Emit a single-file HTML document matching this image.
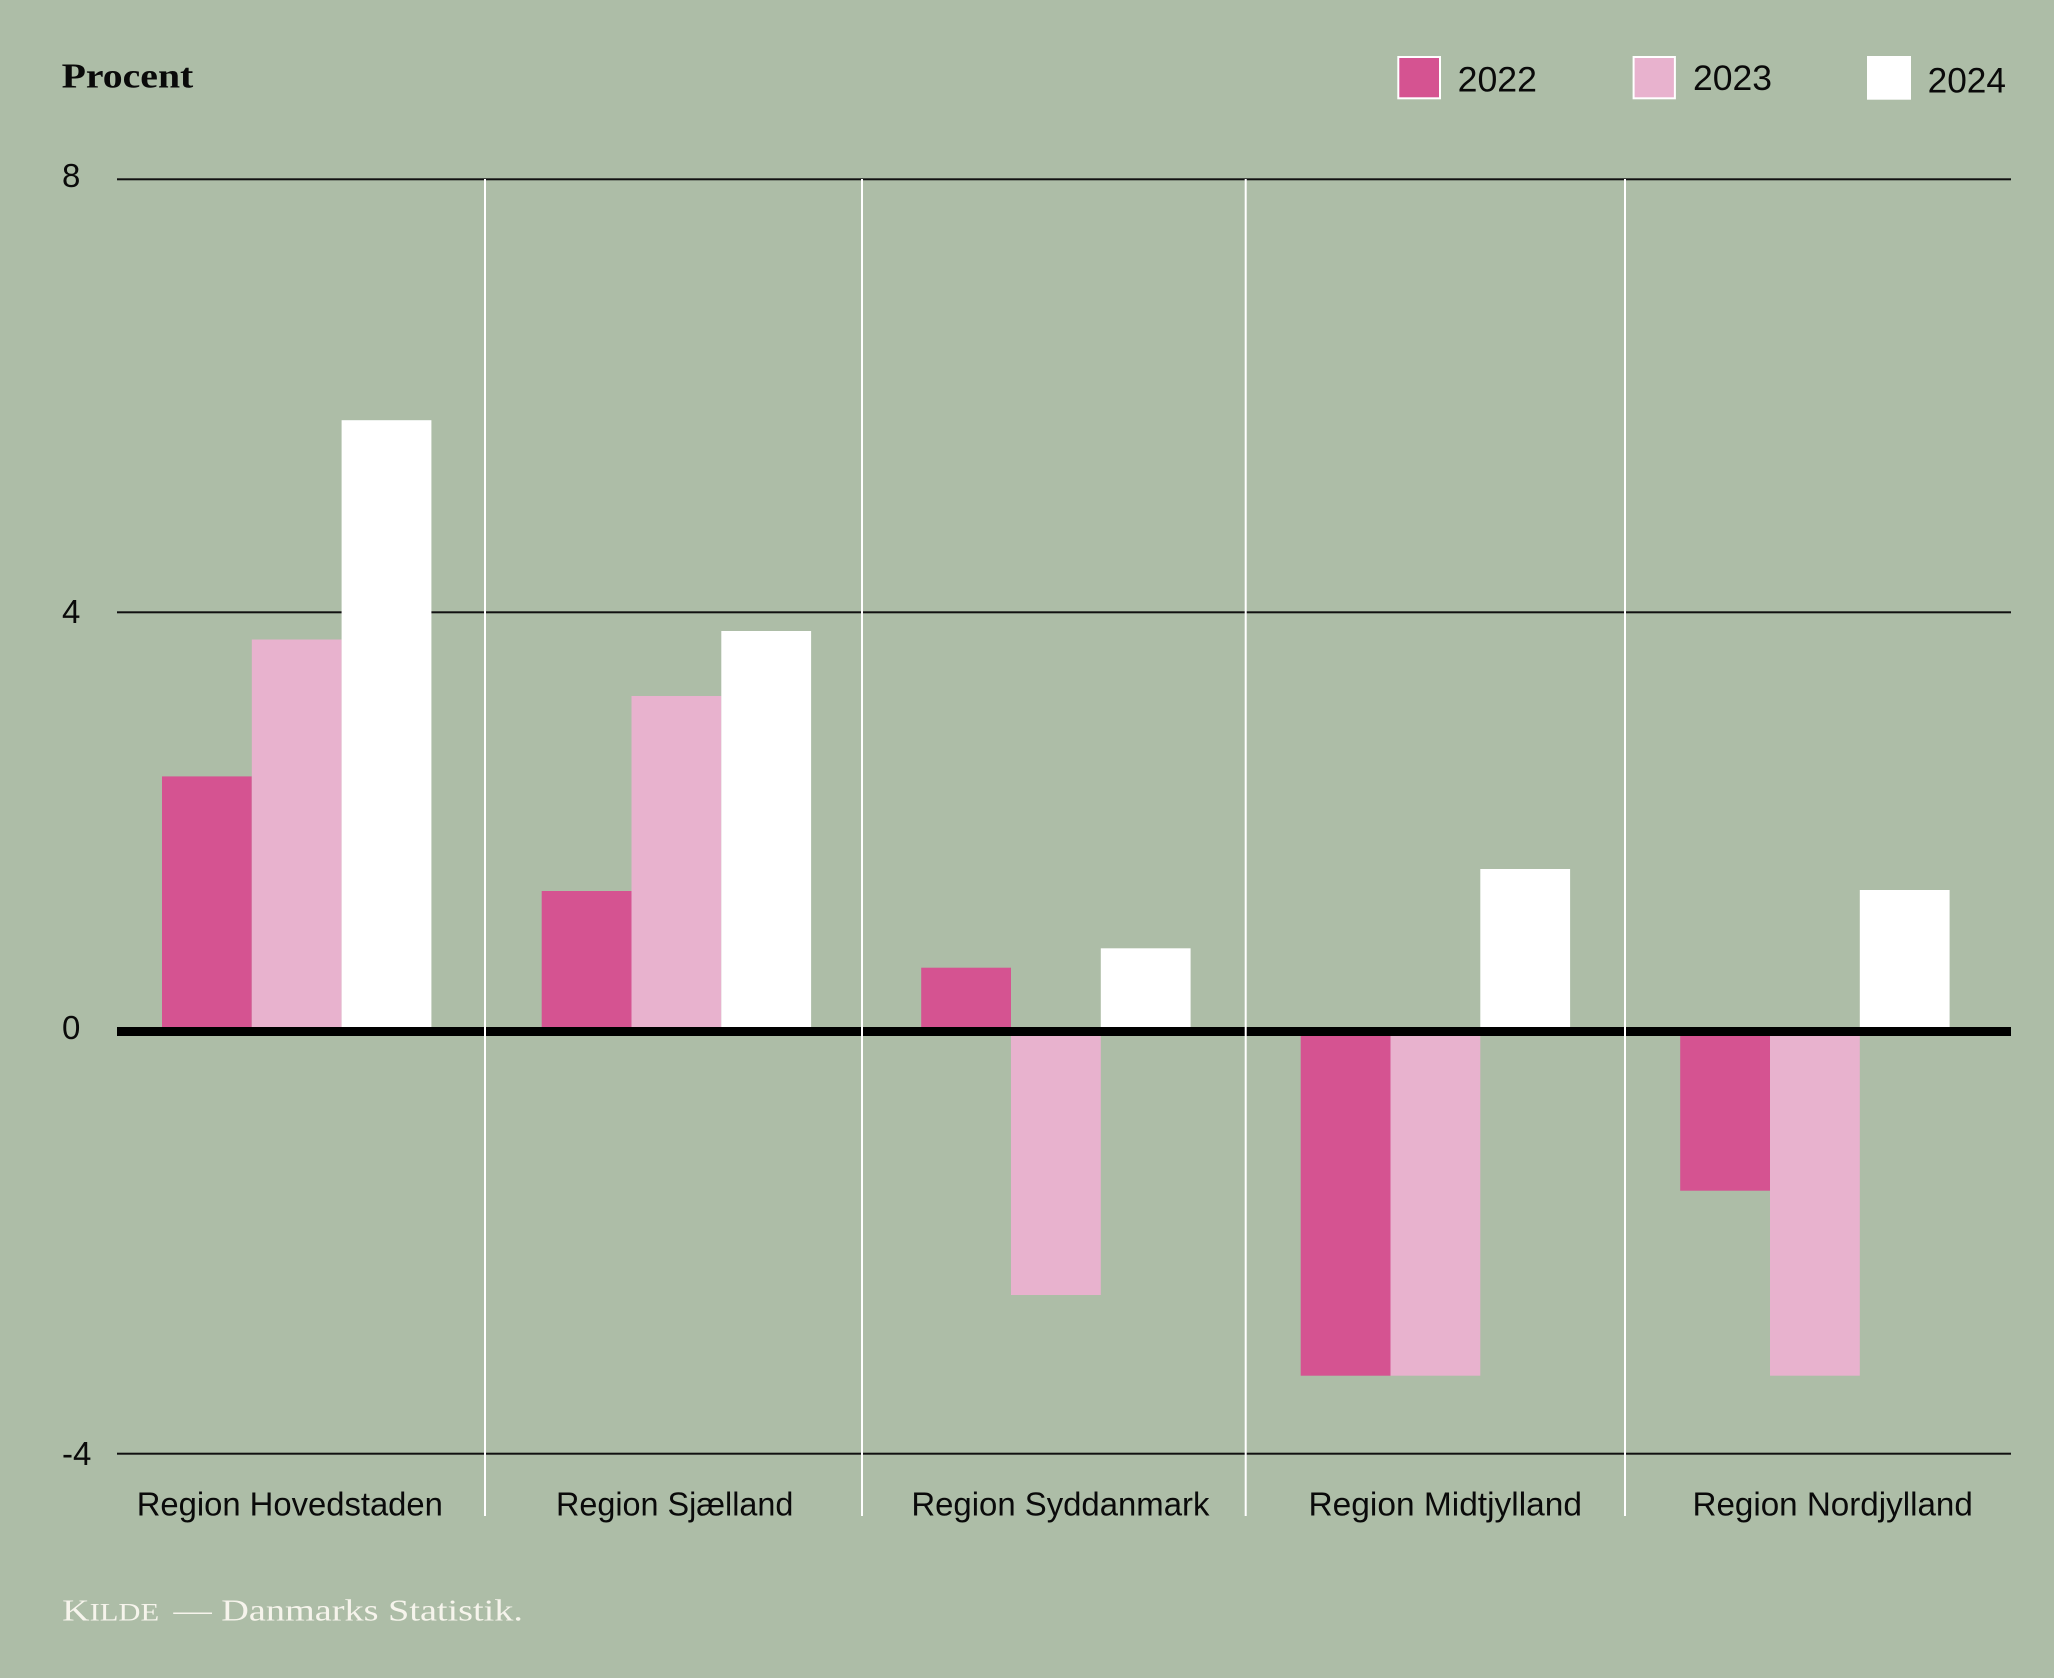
<!DOCTYPE html>
<html>
<head>
<meta charset="utf-8">
<style>
  html, body { margin: 0; padding: 0; background: #adbda7; }
  svg { display: block; }
</style>
</head>
<body>
<svg width="2054" height="1678" viewBox="0 0 2054 1678" xmlns="http://www.w3.org/2000/svg">
  <rect x="0" y="0" width="2054" height="1678" fill="#adbda7"/>

  <!-- Title -->
  <text x="61.6" y="87.3" font-family="Liberation Serif, serif" font-weight="bold" font-size="35" fill="#0a0a0a" textLength="131.7" lengthAdjust="spacingAndGlyphs">Procent</text>

  <!-- Legend -->
  <rect x="1398.3" y="57" width="41.7" height="41.3" fill="#d55391" stroke="#ffffff" stroke-width="2"/>
  <text x="1457.6" y="91.7" font-family="Liberation Sans, sans-serif" font-size="35" fill="#0a0a0a" textLength="79.4" lengthAdjust="spacingAndGlyphs">2022</text>
  <rect x="1633.6" y="57" width="41.3" height="41.3" fill="#e8b2ce" stroke="#ffffff" stroke-width="2"/>
  <text x="1693" y="90" font-family="Liberation Sans, sans-serif" font-size="35" fill="#0a0a0a" textLength="79" lengthAdjust="spacingAndGlyphs">2023</text>
  <rect x="1867" y="56" width="44" height="43.7" fill="#ffffff"/>
  <text x="1927.6" y="92.7" font-family="Liberation Sans, sans-serif" font-size="35" fill="#0a0a0a" textLength="78.4" lengthAdjust="spacingAndGlyphs">2024</text>

  <!-- Gridlines -->
  <rect x="117" y="178.3" width="1894" height="2" fill="#111"/>
  <rect x="117" y="611.3" width="1894" height="2" fill="#111"/>
  <rect x="117" y="1452.7" width="1894" height="2" fill="#111"/>

  <!-- Y tick labels -->
  <g font-family="Liberation Sans, sans-serif" font-size="33" fill="#0a0a0a">
    <text x="62" y="187">8</text>
    <text x="62" y="623">4</text>
    <text x="62" y="1039">0</text>
    <text x="62" y="1465">-4</text>
  </g>

  <!-- Bars -->
  <!-- Hovedstaden -->
  <rect x="162" y="776.4" width="89.8" height="254.6" fill="#d55391"/>
  <rect x="251.8" y="639.5" width="89.8" height="391.5" fill="#e8b2ce"/>
  <rect x="341.6" y="420.2" width="89.8" height="610.8" fill="#ffffff"/>
  <!-- Sjælland -->
  <rect x="541.7" y="891" width="89.8" height="140" fill="#d55391"/>
  <rect x="631.5" y="696" width="89.8" height="335" fill="#e8b2ce"/>
  <rect x="721.3" y="631" width="89.8" height="400" fill="#ffffff"/>
  <!-- Syddanmark -->
  <rect x="921.2" y="967.7" width="89.8" height="63.3" fill="#d55391"/>
  <rect x="1011" y="1031" width="89.8" height="264" fill="#e8b2ce"/>
  <rect x="1100.8" y="948.3" width="89.8" height="82.7" fill="#ffffff"/>
  <!-- Midtjylland -->
  <rect x="1300.7" y="1031" width="89.8" height="344.7" fill="#d55391"/>
  <rect x="1390.5" y="1031" width="89.8" height="344.7" fill="#e8b2ce"/>
  <rect x="1480.3" y="869" width="89.8" height="162" fill="#ffffff"/>
  <!-- Nordjylland -->
  <rect x="1680.2" y="1031" width="89.8" height="159.7" fill="#d55391"/>
  <rect x="1770" y="1031" width="89.8" height="344.7" fill="#e8b2ce"/>
  <rect x="1859.8" y="890" width="89.8" height="141" fill="#ffffff"/>

  <!-- Zero line -->
  <rect x="117" y="1027" width="1894" height="9" fill="#000000"/>

  <!-- Separators -->
  <rect x="484" y="179" width="2" height="1337" fill="#ffffff"/>
  <rect x="861" y="179" width="2" height="1337" fill="#ffffff"/>
  <rect x="1244.7" y="179" width="2" height="1337" fill="#ffffff"/>
  <rect x="1624" y="179" width="2" height="1337" fill="#ffffff"/>

  <!-- X labels -->
  <g font-family="Liberation Sans, sans-serif" font-size="33" fill="#0a0a0a">
    <text x="136.7" y="1515.7" textLength="306.2" lengthAdjust="spacingAndGlyphs">Region Hovedstaden</text>
    <text x="556" y="1515.7" textLength="237.4" lengthAdjust="spacingAndGlyphs">Region Sjælland</text>
    <text x="911.4" y="1515.7" textLength="298" lengthAdjust="spacingAndGlyphs">Region Syddanmark</text>
    <text x="1308.5" y="1515.7" textLength="273.5" lengthAdjust="spacingAndGlyphs">Region Midtjylland</text>
    <text x="1692.5" y="1515.7" textLength="280.3" lengthAdjust="spacingAndGlyphs">Region Nordjylland</text>
  </g>

  <!-- Footer -->
  <text x="62.2" y="1620.7" font-family="Liberation Serif, serif" fill="#f6f4ec" textLength="97" lengthAdjust="spacingAndGlyphs"><tspan font-size="31">K</tspan><tspan font-size="25">ILDE</tspan></text>
  <text x="173.5" y="1620.7" font-family="Liberation Serif, serif" font-size="31" fill="#f6f4ec" textLength="349.5" lengthAdjust="spacingAndGlyphs">— Danmarks Statistik.</text>
</svg>
</body>
</html>
